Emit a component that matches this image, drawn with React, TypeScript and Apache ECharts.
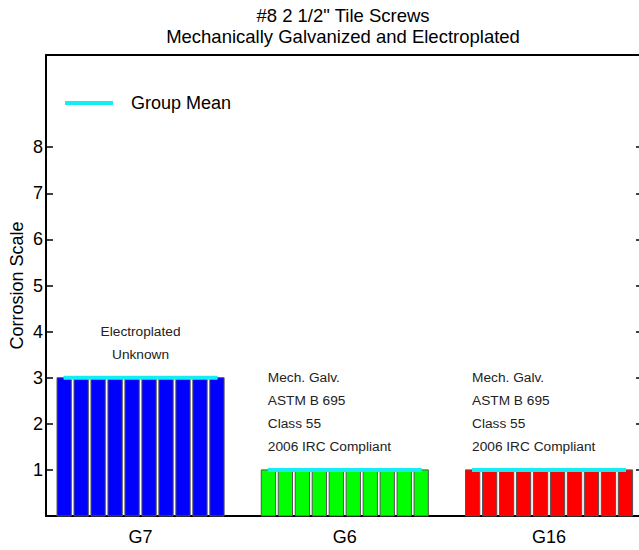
import React, { useEffect, useRef } from "react";
import * as echarts from "echarts";

// ---- data ----
const groups = ["G7", "G6", "G16"];
const groupMeans = [3, 1, 1];
const g7Specimens = [3, 3, 3, 3, 3, 3, 3, 3, 3, 3];
const g6Specimens = [1, 1, 1, 1, 1, 1, 1, 1, 1, 1];
const g16Specimens = [1, 1, 1, 1, 1, 1, 1, 1, 1, 1];
const yTickValues = [1, 2, 3, 4, 5, 6, 7, 8];
const g7Notes = ["Electroplated", "Unknown"];
const g6Notes = ["Mech. Galv.", "ASTM B 695", "Class 55", "2006 IRC Compliant"];
const g16Notes = ["Mech. Galv.", "ASTM B 695", "Class 55", "2006 IRC Compliant"];

// ---- styles / layout ----
const FONT = "'Liberation Sans', Arial, Helvetica, sans-serif";
const groupColors = ["#0000FF", "#00FF00", "#FF0000"];
const meanColor = "#14EEF2";
const HALF = 0.409; // half width of a group of bars (x units)
const GAP = 0.0132; // gap between adjacent bars (x units)
const MEAN_HALF = 0.377;
const noteTop = [4, 3, 3];
const noteStep = 0.5;
const noteAlign = ["center", "left", "left"];

export default function App() {
  const ref = useRef<HTMLDivElement>(null);
  useEffect(() => {
    if (!ref.current) return;
    const chart = echarts.init(ref.current, undefined, { renderer: "svg" });
    const specimenSets = [g7Specimens, g6Specimens, g16Specimens];
    const barData: number[][] = [];
    specimenSets.forEach((set, gi) =>
      set.forEach((v, k) => barData.push([gi + 1, k, v, gi, set.length]))
    );
    const meanData = groupMeans.map((m, gi) => [gi + 1, m]);
    const noteSets = [g7Notes, g6Notes, g16Notes];
    const noteData: any[] = [];
    noteSets.forEach((lines, gi) =>
      lines.forEach((t, li) => noteData.push({ value: [gi + 1, li, gi], text: t }))
    );

    const xCommon = { type: "value", min: 0.537, max: 3.46 };
    chart.setOption({
      animation: false,
      backgroundColor: "#fff",
      title: {
        text: '#8 2 1/2" Tile Screws\nMechanically Galvanized and Electroplated',
        left: 343,
        top: 5,
        textAlign: "center",
        padding: 0,
        textStyle: {
          fontFamily: FONT,
          fontSize: 18.5,
          fontWeight: "normal",
          lineHeight: 21,
          color: "#000",
        },
      },
      legend: {
        left: 65,
        top: 94,
        padding: 0,
        itemWidth: 48,
        itemHeight: 4,
        selectedMode: false,
        data: [{ name: "Group Mean", icon: "rect", itemStyle: { color: meanColor } }],
        textStyle: { fontFamily: FONT, fontSize: 18, color: "#000", padding: [0, 0, 0, 13] },
      },
      grid: {
        left: 46,
        top: 55,
        width: 597,
        bottom: 34,
        containLabel: false,
        outerBoundsMode: "none",
      },
      xAxis: [
        {
          ...xCommon,
          position: "bottom",
          axisLine: { show: true, onZero: false, lineStyle: { color: "#000", width: 2 } },
          axisTick: { show: false },
          splitLine: { show: false },
          axisLabel: {
            customValues: [1, 2, 3],
            formatter: (v: number) => groups[Math.round(v) - 1] ?? "",
            fontFamily: FONT,
            fontSize: 18,
            color: "#000",
            margin: 12,
          },
        },
        {
          ...xCommon,
          position: "top",
          axisLine: { show: true, onZero: false, lineStyle: { color: "#000", width: 2 } },
          axisTick: { show: false },
          axisLabel: { show: false },
          splitLine: { show: false },
        },
      ],
      yAxis: [
        {
          type: "value",
          min: 0,
          max: 10,
          interval: 1,
          position: "left",
          name: "Corrosion Scale",
          nameLocation: "middle",
          nameGap: 20,
          nameMoveOverlap: false,
          nameTextStyle: { fontFamily: FONT, fontSize: 18, color: "#000" },
          axisLine: { show: true, onZero: false, lineStyle: { color: "#000", width: 2 } },
          axisTick: {
            show: true,
            inside: true,
            length: 7,
            customValues: yTickValues,
            lineStyle: { color: "#000", width: 1.5 },
          },
          axisLabel: {
            customValues: yTickValues,
            fontFamily: FONT,
            fontSize: 18,
            color: "#000",
            margin: 3,
          },
          splitLine: { show: false },
        },
        {
          type: "value",
          min: 0,
          max: 10,
          interval: 1,
          position: "right",
          axisLine: { show: true, onZero: false, lineStyle: { color: "#000", width: 2 } },
          axisTick: {
            show: true,
            inside: true,
            length: 7,
            customValues: yTickValues,
            lineStyle: { color: "#000", width: 1.5 },
          },
          axisLabel: { show: false },
          splitLine: { show: false },
        },
      ],
      series: [
        {
          type: "custom",
          name: "Specimens",
          xAxisIndex: 0,
          yAxisIndex: 0,
          data: barData,
          z: 2,
          renderItem: (params: any, api: any) => {
            const gx = api.value(0);
            const k = api.value(1);
            const v = api.value(2);
            const gi = api.value(3);
            const n = api.value(4);
            const bw = (2 * HALF - (n - 1) * GAP) / n;
            const left = gx - HALF + k * (bw + GAP);
            const p0 = api.coord([left, v]);
            const p1 = api.coord([left + bw, 0]);
            return {
              type: "rect",
              shape: { x: p0[0], y: p0[1], width: p1[0] - p0[0], height: p1[1] - p0[1] },
              style: { fill: groupColors[gi], stroke: "#555", lineWidth: 1 },
            };
          },
        },
        {
          type: "custom",
          name: "Group Mean",
          xAxisIndex: 0,
          yAxisIndex: 0,
          data: meanData,
          z: 3,
          itemStyle: { color: meanColor },
          renderItem: (params: any, api: any) => {
            const gx = api.value(0);
            const v = api.value(1);
            const a = api.coord([gx - MEAN_HALF, v]);
            const b = api.coord([gx + MEAN_HALF, v]);
            return {
              type: "line",
              shape: { x1: a[0], y1: a[1], x2: b[0], y2: b[1] },
              style: { stroke: meanColor, lineWidth: 4 },
            };
          },
        },
        {
          type: "custom",
          name: "Notes",
          xAxisIndex: 0,
          yAxisIndex: 0,
          data: noteData,
          z: 4,
          renderItem: (params: any, api: any) => {
            const gx = api.value(0);
            const li = api.value(1);
            const gi = api.value(2);
            const align = noteAlign[gi];
            const xv = align === "center" ? gx : gx - MEAN_HALF;
            const p = api.coord([xv, noteTop[gi] - li * noteStep]);
            return {
              type: "text",
              x: p[0],
              y: p[1],
              style: {
                text: noteSets[gi][li],
                fill: "#222",
                fontFamily: FONT,
                fontSize: 13.7,
                align,
                verticalAlign: "middle",
              },
            };
          },
        },
      ],
    });
    return () => chart.dispose();
  }, []);
  return (
    <div
      ref={ref}
      style={{ position: "fixed", left: 0, top: 0, width: 639, height: 550, background: "#fff" }}
    />
  );
}
